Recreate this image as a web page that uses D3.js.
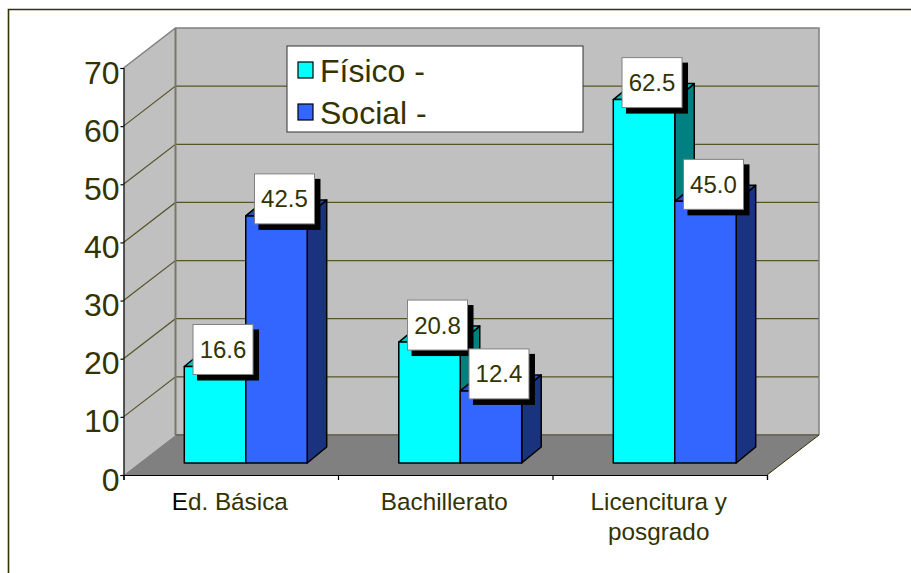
<!DOCTYPE html>
<html lang="es">
<head>
    <meta charset="UTF-8">
    <title>Físico y social por nivel educativo</title>
    <script src="https://d3js.org/d3.v7.min.js"></script>
    <style>
        html, body { margin: 0; padding: 0; background: #fff; }
        svg { display: block; }
        text { font-family: "Liberation Sans", Arial, sans-serif; fill: #333300; }
    </style>
</head>
<body>
    <div class="canvas"></div>
    <script>
      const categories = ['Ed. Básica', 'Bachillerato', 'Licencitura y posgrado'];
      const seriesNames = ['Físico -', 'Social -'];
      const fisico = [16.6, 20.8, 62.5];
      const social = [42.5, 12.4, 45.0];
      const yTicks = [0, 10, 20, 30, 40, 50, 60, 70];

      const width = 911;
      const height = 573;
      const olive = '#333300';

      // front plane of the box, plus the shift to the back wall
      const [boxLeft, boxRight, boxTop, boxBottom] = [123.5, 767, 68, 475];
      const wallDx = 52, wallDy = -40;
      // bars stand part way into the floor and have their own depth
      const barInsetX = 15, barInsetY = -12;
      const barDx = 19.5, barDy = -16;

      const palette = [
        { front: '#00ffff', side: '#008080', top: '#00c0c0' },
        { front: '#3366ff', side: '#1a337f', top: '#264dbf' }
      ];

      const svg = d3.select('.canvas')
                      .append('svg')
                      .attr('width', width)
                      .attr('height', height);

      const x = d3.scaleBand()
                    .domain(categories)
                    .range([boxLeft, boxRight])
                    .paddingInner(0.427)
                    .paddingOuter(0.2135);

      const xInner = d3.scaleBand()
                    .domain(d3.range(seriesNames.length))
                    .range([0, x.bandwidth()]);

      const y = d3.scaleLinear()
                    .domain([0, 70])
                    .range([boxBottom, boxTop]);

      const poly = pts => pts.map(p => p.join(',')).join(' ');

      // outer frame, open on the right and at the bottom
      svg.append('path')
        .attr('d', `M8.5,${height} V9.5 H${width}`)
        .attr('fill', 'none')
        .attr('stroke', olive)
        .attr('stroke-width', 1.6);

      /*--------------------------- walls --------------------------*/
      const walls = svg.append('g');

      walls.append('polygon')
        .attr('points', poly([[boxLeft, boxTop], [boxLeft + wallDx, boxTop + wallDy], [boxLeft + wallDx, boxBottom + wallDy], [boxLeft, boxBottom]]))
        .attr('fill', '#c0c0c0');

      walls.append('rect')
        .attr('x', boxLeft + wallDx).attr('y', boxTop + wallDy)
        .attr('width', boxRight - boxLeft).attr('height', boxBottom - boxTop)
        .attr('fill', '#c0c0c0');

      walls.append('polygon')
        .attr('points', poly([[boxLeft, boxBottom], [boxLeft + wallDx, boxBottom + wallDy], [boxRight + wallDx, boxBottom + wallDy], [boxRight, boxBottom]]))
        .attr('fill', '#808080');

      walls.selectAll('.grid')
        .data(yTicks.filter(t => t > 0 && t < 70))
        .enter()
        .append('polyline')
        .attr('class', 'grid')
        .attr('fill', 'none')
        .attr('stroke', '#55552b')
        .attr('stroke-width', 1.2)
        .attr('points', d => poly([[boxLeft, y(d)], [boxLeft + wallDx, y(d) + wallDy], [boxRight + wallDx, y(d) + wallDy]]));

      // grey outline of the wall panels
      walls.append('polyline')
        .attr('fill', 'none')
        .attr('stroke', '#808080')
        .attr('stroke-width', 1.5)
        .attr('points', poly([[boxLeft, boxTop], [boxLeft + wallDx, boxTop + wallDy], [boxRight + wallDx, boxTop + wallDy], [boxRight + wallDx, boxBottom + wallDy]]));

      walls.append('line')
        .attr('x1', boxLeft + wallDx).attr('x2', boxLeft + wallDx)
        .attr('y1', boxTop + wallDy).attr('y2', boxBottom + wallDy)
        .attr('stroke', '#787868')
        .attr('stroke-width', 2);

      walls.append('line')
        .attr('x1', boxLeft + wallDx).attr('x2', boxRight + wallDx)
        .attr('y1', boxBottom + wallDy).attr('y2', boxBottom + wallDy)
        .attr('stroke', '#6c6c58')
        .attr('stroke-width', 2);

      walls.append('line')
        .attr('x1', boxRight).attr('x2', boxRight + wallDx)
        .attr('y1', boxBottom).attr('y2', boxBottom + wallDy)
        .attr('stroke', olive)
        .attr('stroke-width', 1);

      /*--------------------------- bars ---------------------------*/
      const rows = categories.flatMap((c, i) => [
        { cat: c, s: 0, value: fisico[i] },
        { cat: c, s: 1, value: social[i] }
      ]);

      const bar = svg.append('g').selectAll('g')
        .data(rows)
        .enter()
        .append('g')
        .attr('stroke', '#000')
        .attr('stroke-width', 1.5)
        .attr('stroke-linejoin', 'round');

      const x0 = d => x(d.cat) + xInner(d.s) + barInsetX;
      const x1 = d => x0(d) + xInner.bandwidth();
      const yTop = d => y(d.value) + barInsetY;
      const yBase = () => y(0) + barInsetY;

      bar.append('polygon')
        .attr('fill', d => palette[d.s].side)
        .attr('points', d => poly([[x1(d), yTop(d)], [x1(d) + barDx, yTop(d) + barDy], [x1(d) + barDx, yBase() + barDy], [x1(d), yBase()]]));

      bar.append('polygon')
        .attr('fill', d => palette[d.s].top)
        .attr('points', d => poly([[x0(d), yTop(d)], [x0(d) + barDx, yTop(d) + barDy], [x1(d) + barDx, yTop(d) + barDy], [x1(d), yTop(d)]]));

      bar.append('rect')
        .attr('x', x0)
        .attr('y', yTop)
        .attr('width', xInner.bandwidth())
        .attr('height', d => yBase() - yTop(d))
        .attr('fill', d => palette[d.s].front);

      /*--------------------------- axes ---------------------------*/
      const yAxis = d3.axisLeft(y)
                        .tickValues(yTicks)
                        .tickSize(3)
                        .tickPadding(1)
                        .tickFormat(d3.format('d'));

      const yAxisG = svg.append('g')
                          .attr('transform', `translate(${boxLeft}, 0)`)
                          .call(yAxis);
      yAxisG.selectAll('text')
        .attr('dy', null)
        .attr('y', 15)
        .style('font-size', '32px')
        .style('font-family', '"Liberation Sans", Arial, sans-serif');

      const xEdges = d3.scaleLinear().domain([0, categories.length]).range([boxLeft, boxRight]);
      const xAxis = d3.axisBottom(xEdges)
                        .tickValues(d3.range(categories.length + 1))
                        .tickSize(5)
                        .tickFormat('');

      svg.append('g')
        .attr('transform', `translate(0, ${boxBottom})`)
        .call(xAxis);

      svg.selectAll('.domain, .tick line')
        .attr('stroke', '#000')
        .attr('stroke-width', 1.2);

      // category names, the long one goes on two rows
      svg.append('g').selectAll('text')
        .data(categories)
        .enter()
        .append('text')
        .attr('text-anchor', 'middle')
        .style('font-size', '24.3px')
        .each(function (d) {
          const node = d3.select(this);
          const cx = x(d) + x.bandwidth() / 2 - 1;
          const lines = d.length > 20 ? ['Licencitura y', 'posgrado'] : [d];
          lines.forEach((line, i) => {
            const row = node.append('tspan')
              .attr('x', cx)
              .attr('y', 510 + i * 30);
            // the first letter of the first category is set in black
            if (d === categories[0]) {
              row.append('tspan').style('fill', '#000').text(line[0]);
              row.append('tspan').text(line.slice(1));
            } else {
              row.text(line);
            }
          });
        });

      /*--------------------------- value labels -------------------*/
      const [labelW, labelH] = [60, 50];
      const label = svg.append('g').selectAll('g')
        .data(rows)
        .enter()
        .append('g')
        .attr('transform', d => `translate(${(x0(d) + x1(d)) / 2 + 8 - labelW / 2}, ${yTop(d) - 17 - labelH / 2})`);

      label.append('rect')
        .attr('x', 4).attr('y', 5)
        .attr('width', labelW + 2).attr('height', labelH + 1)
        .attr('fill', '#000');

      label.append('rect')
        .attr('width', labelW).attr('height', labelH)
        .attr('fill', '#fff')
        .attr('stroke', '#808080')
        .attr('stroke-width', 1);

      label.append('text')
        .attr('x', labelW / 2)
        .attr('y', labelH / 2 + 8.5)
        .attr('text-anchor', 'middle')
        .style('font-size', '24px')
        .text(d => d3.format('.1f')(d.value));

      /*--------------------------- legend -------------------------*/
      const legend = svg.append('g').attr('transform', 'translate(287, 46)');

      legend.append('rect')
        .attr('width', 296).attr('height', 86)
        .attr('fill', '#fff')
        .attr('stroke', '#333')
        .attr('stroke-width', 1);

      const item = legend.selectAll('.item')
        .data(seriesNames)
        .enter()
        .append('g')
        .attr('class', 'item')
        .attr('transform', (d, i) => `translate(11, ${16 + i * 42})`);

      item.append('rect')
        .attr('width', 15).attr('height', 16)
        .attr('fill', (d, i) => palette[i].front)
        .attr('stroke', '#000')
        .attr('stroke-width', 1.2);

      item.append('text')
        .attr('x', 22)
        .attr('y', 20)
        .style('font-size', '32px')
        .text(d => d);
    </script>
</body>
</html>
